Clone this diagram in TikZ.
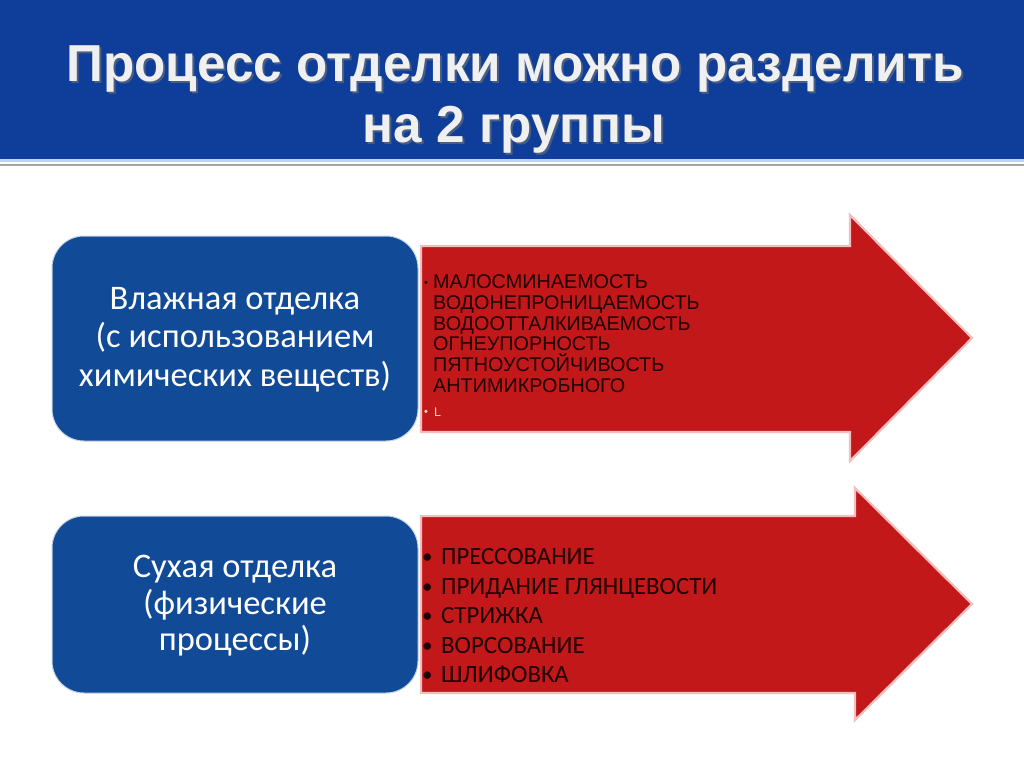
\documentclass[tikz,border=0pt]{standalone}
\usepackage{fontspec}
\setmainfont{Carlito}
\newfontfamily\arialf{Liberation Sans}
\newfontfamily\titlef[FakeStretch=0.985]{Liberation Sans Bold}
\definecolor{barblue}{RGB}{14,62,153}
\definecolor{boxblue}{RGB}{17,74,150}
\definecolor{arrred}{RGB}{194,24,26}
\definecolor{arredge}{RGB}{244,190,190}
\definecolor{txtdark}{RGB}{30,0,0}
\definecolor{lineblue}{RGB}{190,212,240}
\definecolor{linegrey}{RGB}{165,165,165}
\begin{document}
\begin{tikzpicture}[x=1pt,y=-1pt,
  titletext/.style={font=\titlef\fontsize{52}{56}\selectfont, text=white!94!black, anchor=base, inner sep=0pt},
  titleshadow/.style={font=\titlef\fontsize{52}{56}\selectfont, text=black!55, anchor=base, inner sep=0pt, opacity=0.6},
  groupbox/.style={draw=white!75!boxblue, line width=1pt, fill=boxblue, rounded corners=32pt},
  boxtext/.style={text=white, font=\fontsize{34.5}{38}\selectfont, anchor=base, inner sep=0pt},
  arrowshape/.style={fill=arrred, draw=arredge, line width=2.2pt, line join=miter},
  listone/.style={font=\arialf\fontsize{19.8}{20.7}\selectfont, text=txtdark, anchor=base west, inner sep=0pt},
  listtwo/.style={font=\fontsize{24.8}{29.5}\selectfont, text=txtdark, anchor=base west, inner sep=0pt}
]
\useasboundingbox (0,0) rectangle (1024,767);
\fill[white] (0,0) rectangle (1024,767);
% title bar
\fill[barblue] (0,0) rectangle (1024,159);
\fill[lineblue] (0,159) rectangle (1024,162);
\fill[linegrey] (0,164) rectangle (1024,166.5);
\node[titleshadow] (t1s) at (517,84) {Процесс отделки можно разделить};
\node[titleshadow] (t2s) at (516,145) {на 2 группы};
\node[titletext] (t1) at (515,82) {Процесс отделки можно разделить};
\node[titletext] (t2) at (514,143) {на 2 группы};

% top arrow
\draw[arrowshape] (421,246) -- (850,246) -- (850,215) -- (972,338) -- (850,461) -- (850,432) -- (421,432) -- cycle;
% bottom arrow
\draw[arrowshape] (421,516) -- (855,516) -- (855,488) -- (972,604) -- (855,720) -- (855,693) -- (421,693) -- cycle;

% boxes
\draw[groupbox] (52,236) rectangle (418,441);
\node[boxtext] (b11) at (235,309) {Влажная отделка};
\node[boxtext] (b12) at (235,347.5) {(с использованием};
\node[boxtext] (b13) at (235,386) {химических веществ)};
\draw[groupbox] (52,516) rectangle (418,693);
\node[boxtext] (b21) at (235,577) {Сухая отделка};
\node[boxtext] (b22) at (235,614) {(физические};
\node[boxtext] (b23) at (235,650.5) {процессы)};

% list 1
\node[listone, font=\arialf\fontsize{11}{12}\selectfont] (d1) at (424,286) {•};
\node[listone] (l11) at (433,288.5) {МАЛОСМИНАЕМОСТЬ};
\node[listone] (l12) at (433,309.3) {ВОДОНЕПРОНИЦАЕМОСТЬ};
\node[listone] (l13) at (433,330) {ВОДООТТАЛКИВАЕМОСТЬ};
\node[listone] (l14) at (433,350.7) {ОГНЕУПОРНОСТЬ};
\node[listone] (l15) at (433,371.5) {ПЯТНОУСТОЙЧИВОСТЬ};
\node[listone] (l16) at (433,392) {АНТИМИКРОБНОГО};
\node[listone, text=white!85!red, font=\arialf\fontsize{11}{12}\selectfont] (d2) at (424,415) {•};
\node[listone, text=white!85!red, font=\arialf\fontsize{12.5}{14}\selectfont] (l17) at (434,416) {L};

% list 2
\foreach \t [count=\i] in {ПРЕССОВАНИЕ, ПРИДАНИЕ ГЛЯНЦЕВОСТИ, СТРИЖКА, ВОРСОВАНИЕ, ШЛИФОВКА}{
  \node[listtwo, font=\fontsize{21}{29.5}\selectfont] (p\i) at (422,534+\i*29.5) {•};
  \node[listtwo] (q\i) at (441,535+\i*29.5) {\t};
}
\end{tikzpicture}
\end{document}
